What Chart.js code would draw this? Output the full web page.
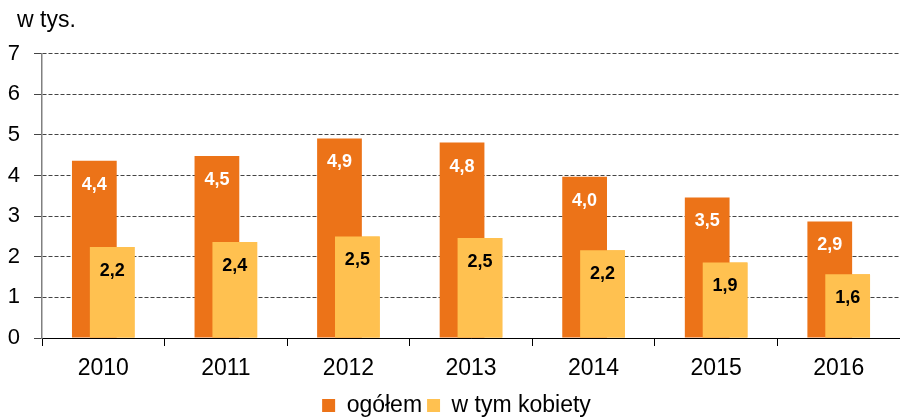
<!DOCTYPE html>
<html>
<head>
<meta charset="utf-8">
<script src="https://cdn.jsdelivr.net/npm/chart.js@4.4.0/dist/chart.umd.min.js"></script>
<style>
  html, body { margin: 0; padding: 0; background: #fff; }
  #wrap { width: 900px; height: 420px; }
</style>
</head>
<body>
<div id="wrap"><canvas id="chart"></canvas></div>
<script>
/* ---------- data ---------- */
const years = ["2010", "2011", "2012", "2013", "2014", "2015", "2016"];
const totalValues = [4.36, 4.48, 4.91, 4.81, 3.97, 3.46, 2.87];   // ogółem
const womenValues = [2.24, 2.36, 2.50, 2.46, 2.16, 1.86, 1.57];   // w tym kobiety
const yMin = 0;
const yMax = 7;
const yStep = 1;

const FONT = "'Liberation Sans', Arial, sans-serif";
const ORANGE = "#ec7318";
const YELLOW = "#ffc150";

/* ---------- plugin: yellow bars on top + value labels ---------- */
const barLabels = {
  id: "barLabels",
  afterLayout(chart) {
    // unit caption sits a bit right of the tick labels
    chart.titleBlock.left += 10;
  },
  afterDatasetsDraw(chart) {
    const ctx = chart.ctx;
    // the second series overlaps the first one, draw it again on top
    chart.getDatasetMeta(1).controller.draw();

    ctx.save();
    ctx.font = "bold 18px " + FONT;
    ctx.textAlign = "center";
    ctx.textBaseline = "middle";
    chart.data.datasets.forEach((ds, i) => {
      const meta = chart.getDatasetMeta(i);
      ctx.fillStyle = i === 0 ? "#ffffff" : "#000000";
      meta.data.forEach((bar, j) => {
        const txt = ds.data[j].toFixed(1).replace(".", ",");
        ctx.fillText(txt, bar.x, bar.y + 24);
      });
    });
    ctx.restore();
  }
};

new Chart(document.getElementById("chart"), {
  type: "bar",
  data: {
    labels: years,
    datasets: [
      {
        label: "ogółem",
        data: totalValues,
        backgroundColor: ORANGE,
        borderWidth: 0,
        categoryPercentage: 0.292,
        barPercentage: 2.5
      },
      {
        label: "w tym kobiety",
        data: womenValues,
        backgroundColor: YELLOW,
        borderWidth: 0,
        categoryPercentage: 0.292,
        barPercentage: 2.5
      }
    ]
  },
  options: {
    responsive: true,
    maintainAspectRatio: false,
    animation: false,
    layout: { padding: { left: 7, right: -6, top: 0, bottom: -7 } },
    plugins: {
      tooltip: { enabled: false },
      title: {
        display: true,
        text: "w tys.",
        align: "start",
        color: "#000",
        font: { family: FONT, size: 23, weight: "normal" },
        padding: { top: 7, bottom: 19 }
      },
      legend: {
        position: "bottom",
        labels: {
          boxWidth: 13,
          boxHeight: 13,
          padding: 5,
          color: "#000",
          font: { family: FONT, size: 23 }
        }
      }
    },
    scales: {
      x: {
        afterFit(scale) { scale.height -= 2; },
        grid: {
          offset: true,
          drawOnChartArea: false,
          drawTicks: true,
          tickLength: 8,
          color: "#000"
        },
        border: { display: true, color: "#000", width: 1 },
        ticks: {
          color: "#000",
          padding: 11,
          font: { family: FONT, size: 23, lineHeight: 1 }
        }
      },
      y: {
        min: yMin,
        max: yMax,
        afterFit(scale) { scale.width = 35; },
        ticks: {
          stepSize: yStep,
          color: "#000",
          padding: 14,
          font: { family: FONT, size: 22 }
        },
        grid: {
          color: "#444",
          lineWidth: 1,
          tickLength: 8
        },
        border: { display: true, color: "#808080", width: 1.5, dash: [4, 2] }
      }
    }
  },
  plugins: [barLabels]
});
</script>
</body>
</html>
